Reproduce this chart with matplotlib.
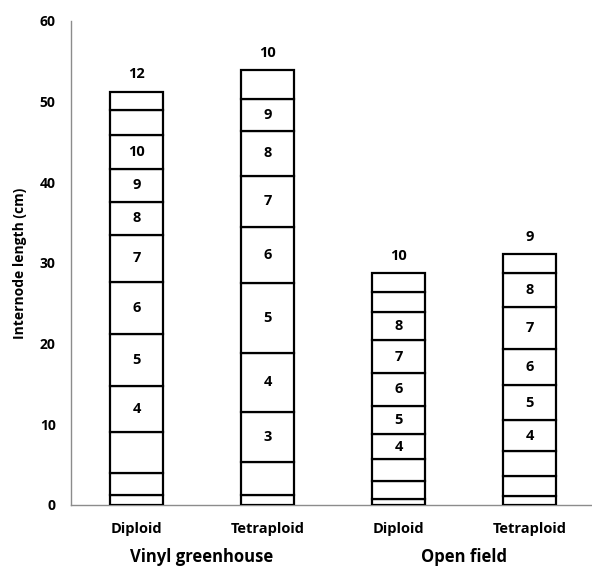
import numpy as np
import matplotlib
matplotlib.use("Agg")
import matplotlib.pyplot as plt

plt.rcParams["font.family"] = ["Open Sans", "DejaVu Sans"]
plt.rcParams["font.weight"] = "bold"

# -*- Daten: Internodienlängen (cm) von unten nach oben
categories = ["Diploid", "Tetraploid", "Diploid", "Tetraploid"]
groups = ["Vinyl greenhouse", "Open field"]
vg_diploid = [1.3, 2.7, 5.0, 5.7, 6.5, 6.5, 5.8, 4.1, 4.1, 4.2, 3.1, 2.2]
vg_tetraploid = [1.2, 4.1, 6.2, 7.4, 8.6, 7.0, 6.3, 5.6, 3.9, 3.6]
of_diploid = [0.7, 2.3, 2.7, 3.1, 3.5, 4.1, 4.0, 3.5, 2.5, 2.3]
of_tetraploid = [1.1, 2.5, 3.1, 3.8, 4.4, 4.5, 5.2, 4.1, 2.4]
series = [vg_diploid, vg_tetraploid, of_diploid, of_tetraploid]
# welche Internodien beschriftet sind (erste, letzte)
labeled = [(4, 10), (3, 9), (4, 8), (4, 8)]

W, H = 592, 567
fig = plt.figure(figsize=(W / 100, H / 100), dpi=100)
ax = fig.add_axes([71 / W, 62 / H, (W - 71) / W, 484 / H])

xpos = np.arange(len(series)) + 0.5
bw = 53 / 131
for x, seg, (lo, hi) in zip(xpos, series, labeled):
    bottoms = np.concatenate([[0], np.cumsum(seg)[:-1]])
    ax.bar([x] * len(seg), seg, bottom=bottoms, width=bw,
           color="white", edgecolor="black", linewidth=1.6, zorder=3)
    for i, (b, h) in enumerate(zip(bottoms, seg), start=1):
        if lo <= i <= hi:
            ax.text(x, b + h / 2, str(i), ha="center", va="center",
                    fontsize=10.5, fontweight="bold", zorder=4)
    ax.text(x, sum(seg) + 1.3, str(len(seg)), ha="center", va="bottom",
            fontsize=10.5, fontweight="bold")

ax.set_xlim(0, (W - 71) / 131)
ax.set_ylim(0, 60)
ax.set_yticks(np.arange(0, 61, 10))
ax.set_xticks(xpos)
ax.set_xticklabels(categories)
ax.tick_params(axis="both", length=0, labelsize=10, colors="black")
ax.tick_params(axis="y", pad=11)
ax.tick_params(axis="x", pad=12, labelsize=10.5)
for lbl in ax.get_xticklabels() + ax.get_yticklabels():
    lbl.set_fontweight("bold")
ax.set_ylabel("Internode length (cm)", fontsize=10, fontweight="bold", labelpad=9)
for s in ["top", "right"]:
    ax.spines[s].set_visible(False)
for s in ["left", "bottom"]:
    ax.spines[s].set_color("#8c8c8c")
    ax.spines[s].set_linewidth(1.0)

for gx, g in zip([1, 3], groups):
    ax.text(gx, -0.108, g, transform=ax.get_xaxis_transform(), ha="center",
            va="center", fontsize=12, fontweight="bold")

fig.savefig("out.png", dpi=100)
